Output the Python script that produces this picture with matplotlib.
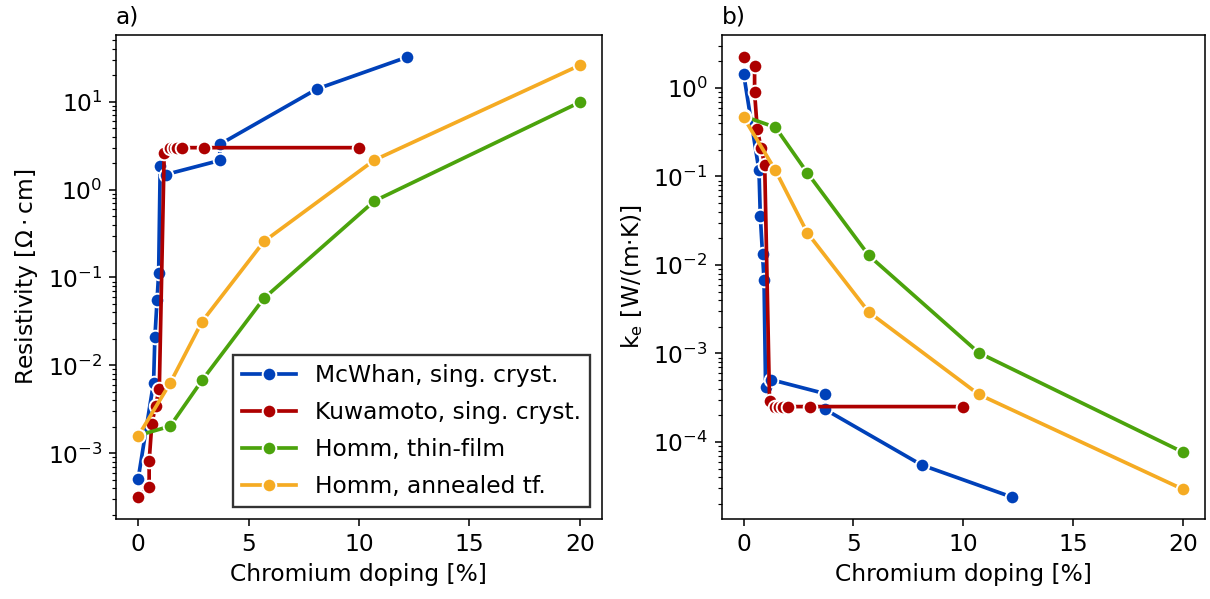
import matplotlib
matplotlib.use("Agg")
import matplotlib.pyplot as plt

# ======= data =======
# McWhan, single crystal
mcwhan_x = [0, 0.7, 0.76, 0.86, 0.93, 1.0, 1.25, 3.7, 3.7, 8.1, 12.2]
mcwhan_rho = [5.1e-4, 6.4e-3, 0.021, 0.056, 0.112, 1.85, 1.48, 2.14, 3.26, 13.9, 32.1]
mcwhan_ke = [1.45, 0.117, 0.0356, 0.0134, 6.7e-3, 4.18e-4, 5.06e-4, 3.52e-4, 2.34e-4, 5.5e-5, 2.39e-5]

# Kuwamoto, single crystal
kuwa_x = [0, 0.5, 0.5, 0.62, 0.79, 0.96, 1.18, 1.44, 1.62, 1.78, 2.0, 3.0, 10.0]
kuwa_rho = [3.2e-4, 4.2e-4, 8.2e-4, 2.15e-3, 3.5e-3, 5.4e-3, 2.58, 2.99, 2.99, 2.99, 2.99, 2.99, 2.99]
kuwa_ke = [2.24, 1.75, 0.89, 0.344, 0.212, 0.136, 2.93e-4, 2.51e-4, 2.51e-4, 2.51e-4, 2.51e-4, 2.51e-4, 2.51e-4]

# Homm, thin film
homm_x = [0, 1.45, 2.9, 5.7, 10.7, 20]
homm_rho = [1.6e-3, 2.04e-3, 6.8e-3, 0.058, 0.74, 9.8]
homm_ke = [0.48, 0.359, 0.11, 0.0128, 1.02e-3, 7.66e-5]

# Homm, annealed thin film
homm_an_x = [0, 1.45, 2.9, 5.7, 10.7, 20]
homm_an_rho = [1.57e-3, 6.3e-3, 0.0316, 0.257, 2.16, 25.8]
homm_an_ke = [0.466, 0.117, 0.0231, 2.93e-3, 3.45e-4, 2.92e-5]

labels = ["McWhan, sing. cryst.", "Kuwamoto, sing. cryst.",
          "Homm, thin-film", "Homm, annealed tf."]
colors = ["#0041b9", "#ad0000", "#4ba30c", "#f5ab23"]

plt.rcParams['font.size'] = 12

# ======= figure =======
fig = plt.figure(figsize=(1210 / 140, 599 / 140), dpi=140)
ax1 = fig.add_axes([0.0959, 0.1336, 0.4014, 0.808])
ax2 = fig.add_axes([0.5964, 0.1336, 0.3994, 0.808])

series = [(mcwhan_x, mcwhan_rho, mcwhan_ke),
          (kuwa_x, kuwa_rho, kuwa_ke),
          (homm_x, homm_rho, homm_ke),
          (homm_an_x, homm_an_rho, homm_an_ke)]

style = dict(marker='o', markersize=7, markeredgecolor='white',
             markeredgewidth=1.0, linewidth=1.9)

for (x, rho, ke), lab, c in zip(series, labels, colors):
    ax1.plot(x, rho, color=c, label=lab, **style)
    ax2.plot(x, ke, color=c, label=lab, **style)

# ===== left panel =====
ax1.set_yscale('log')
ax1.set_xlabel('Chromium doping [%]')
ax1.set_ylabel(r'Resistivity [$\Omega \cdot$cm]')
ax1.set_title('a)', loc='left', fontsize=12)
ax1.set_xticks([0, 5, 10, 15, 20])
leg = ax1.legend(loc='lower right', fancybox=False, edgecolor='#333333',
                 framealpha=1, handlelength=2.3, labelspacing=0.6)
leg.get_frame().set_linewidth(1.2)

# ===== right panel =====
ax2.set_yscale('log')
ax2.set_xlabel('Chromium doping [%]')
ax2.set_ylabel(r'k$_\mathrm{e}$ [W/(m·K)]')
ax2.set_title('b)', loc='left', fontsize=12)
ax2.set_xticks([0, 5, 10, 15, 20])

fig.savefig('out.png', dpi=140)
